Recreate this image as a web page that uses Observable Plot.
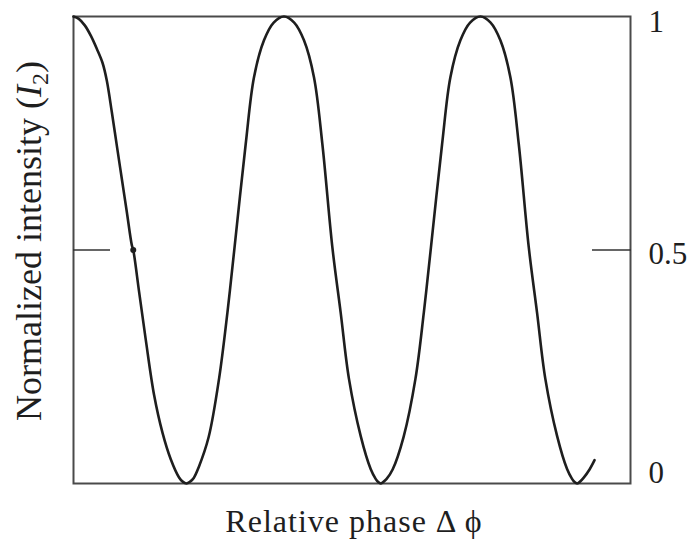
<!DOCTYPE html>
<html>
<head>
<meta charset="utf-8">
<script src="https://cdn.jsdelivr.net/npm/d3@7"></script>
<script src="https://cdn.jsdelivr.net/npm/@observablehq/plot@0.6"></script>
<style>
  html, body { margin: 0; padding: 0; background: #fff; }
  #chart svg { display: block; }
</style>
</head>
<body>
<div id="chart"></div>
<script>
// Relative phase (arbitrary units across the panel) and normalized intensity I2
const phase = [
  0, 0.171, 0.365, 0.559, 0.753, 0.937, 1.076, 1.237, 1.399, 1.560, 1.722, 1.883, 1.931,
  2.119, 2.335, 2.603, 2.875, 3.143, 3.411, 3.529, 3.650,
  3.769, 3.886, 4.047, 4.370, 4.703, 4.974, 5.187, 5.565, 5.833, 6.156, 6.469, 6.802,
  7.132, 7.448, 7.771, 8.042, 8.365, 8.634, 8.902, 9.280, 9.603, 9.764, 9.846, 9.926,
  10.006, 10.119, 10.313, 10.668, 11.050, 11.321, 11.534, 11.912, 12.180, 12.503, 12.816, 13.149,
  13.479, 13.795, 14.118, 14.389, 14.712, 14.980, 15.248, 15.627, 15.950, 16.111, 16.192, 16.272,
  16.353, 16.483, 16.676, 16.838
];
const intensity = [
  1, 0.995, 0.981, 0.959, 0.931, 0.901, 0.863, 0.796, 0.724, 0.653, 0.582, 0.511, 0.5,
  0.411, 0.308, 0.190, 0.109, 0.052, 0.013, 0.004, 0,
  0.004, 0.012, 0.035, 0.100, 0.224, 0.366, 0.495, 0.727, 0.870, 0.949, 0.987, 1,
  0.987, 0.949, 0.870, 0.727, 0.506, 0.366, 0.224, 0.102, 0.031, 0.010, 0.003, 0,
  0.003, 0.010, 0.030, 0.100, 0.224, 0.366, 0.495, 0.727, 0.870, 0.949, 0.987, 1,
  0.987, 0.949, 0.870, 0.727, 0.506, 0.366, 0.224, 0.102, 0.031, 0.010, 0.003, 0,
  0.003, 0.012, 0.030, 0.050
];

// Marked half-intensity point on the first falling edge
const markerPhase = [1.931];
const markerIntensity = [0.5];

// Right-hand intensity ticks
const yTicks = [0, 0.5, 1];
const yTickLabels = ["0", "0.5", "1"];

const xTitle = "Relative phase \u0394\u2009\u03D5";
const yTitle = ["Normalized intensity (", "I", "2", ")"];

const curve = phase.map((p, i) => ({phase: p, intensity: intensity[i]}));
const marker = markerPhase.map((p, i) => ({phase: p, intensity: markerIntensity[i]}));

const serif = "'Liberation Serif', 'DejaVu Serif', serif";
const ink = "#1e1e1e";

// small vertical nudges for the hand-set tick labels
const labelNudge = {0: -10, 0.5: 4, 1: 5.5};

const chart = Plot.plot({
  width: 692,
  height: 542,
  marginLeft: 73,
  marginRight: 62,
  marginTop: 16,
  marginBottom: 59,
  style: {fontFamily: serif, background: "#fff"},
  x: {domain: [0, 18], axis: null},
  y: {domain: [0, 1], axis: null},
  marks: [
    Plot.frame({stroke: "#4a4a4a", strokeWidth: 2}),
    // inward tick marks at the half level on both sides
    Plot.axisY([0.5], {anchor: "left", tickSize: -37, tickFormat: () => "", label: null, stroke: "#333", strokeWidth: 1.6}),
    Plot.axisY([0.5], {anchor: "right", tickSize: -39, tickFormat: () => "", label: null, stroke: "#333", strokeWidth: 1.6}),
    ...yTicks.map((t, i) => Plot.text([t], {
      y: d => d,
      text: () => yTickLabels[i],
      frameAnchor: "right",
      textAnchor: "start",
      dx: 18,
      dy: labelNudge[t],
      fontSize: 31,
      fill: ink
    })),
    Plot.line(curve, {x: "phase", y: "intensity", curve: "catmull-rom", stroke: ink, strokeWidth: 2.6}),
    Plot.dot(marker, {x: "phase", y: "intensity", r: 3, fill: ink, stroke: "none"})
  ]
});

const svg = d3.select(chart);

// x-axis title below the frame
svg.append("text")
  .attr("x", 354)
  .attr("y", 532)
  .attr("text-anchor", "middle")
  .attr("font-family", serif)
  .attr("font-size", 32)
  .attr("letter-spacing", 1)
  .attr("fill", ink)
  .text(xTitle);

// y-axis title, rotated, with italic I and subscript 2
const yt = svg.append("text")
  .attr("transform", "translate(41,241) rotate(-90)")
  .attr("text-anchor", "middle")
  .attr("font-family", serif)
  .attr("font-size", 36)
  .attr("fill", ink);
yt.append("tspan").text(yTitle[0]);
yt.append("tspan").attr("font-style", "italic").text(yTitle[1]);
yt.append("tspan").attr("font-size", 24).attr("dy", 7).text(yTitle[2]);
yt.append("tspan").attr("dy", -7).text(yTitle[3]);

document.getElementById("chart").appendChild(chart);
</script>
</body>
</html>
